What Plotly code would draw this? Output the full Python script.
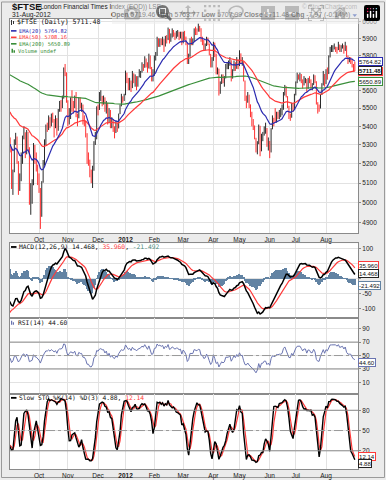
import math
import plotly.graph_objects as go

W, H = 386, 480
def X(p): return p / W
def Y(p): return 1 - p / H

# ---------------- data ----------------
month_labels = ['Oct', 'Nov', 'Dec', '<b>2012</b>', 'Feb', 'Mar', 'Apr', 'May', 'Jun', 'Jul', 'Aug']
month_start_idx = [22, 43, 65, 85, 106, 127, 149, 168, 190, 209, 231]

close = [
    5330, 5292, 5102, 5156, 5318, 5340, 5214, 5072, 5129, 5227, 5338, 5368, 5259, 5363, 5288, 5041, 5066, 5089, 5295, 5217, 5196, 5128,  # Sep
    5075, 4944, 5102, 5197, 5303, 5399, 5395, 5442, 5404, 5466, 5436, 5403, 5445, 5376, 5488, 5526, 5525, 5553, 5713, 5702, 5544,  # Oct
    5421, 5484, 5545, 5527, 5510, 5567, 5460, 5444, 5545, 5518, 5519, 5424, 5423, 5363, 5223, 5222, 5140, 5127, 5164, 5312, 5337, 5505,  # Nov
    5490, 5552, 5568, 5546, 5547, 5484, 5529, 5428, 5490, 5402, 5432, 5387, 5364, 5419, 5389, 5467, 5512, 5566, 5552, 5572,  # Dec
    5700, 5668, 5625, 5649, 5612, 5696, 5662, 5662, 5636, 5673, 5693, 5702, 5741, 5728, 5782, 5751, 5724, 5795, 5733, 5671, 5682,  # Jan
    5790, 5797, 5901, 5877, 5890, 5875, 5896, 5852, 5906, 5892, 5957, 5892, 5905, 5945, 5928, 5916, 5935, 5935, 5915, 5927, 5871,  # Feb
    5932, 5911, 5874, 5765, 5792, 5889, 5887, 5887, 5956, 5945, 5940, 5965, 5961, 5892, 5891, 5849, 5855, 5902, 5870, 5809, 5742, 5768,  # Mar
    5875, 5810, 5703, 5723, 5595, 5635, 5678, 5652, 5667, 5745, 5745, 5746, 5772, 5666, 5709, 5760, 5722, 5777, 5738,  # Apr
    5812, 5758, 5766, 5655, 5554, 5545, 5575, 5521, 5465, 5437, 5405, 5338, 5267, 5304, 5403, 5266, 5350, 5351, 5391, 5391, 5297, 5321,  # May
    5260, 5384, 5447, 5435, 5432, 5473, 5467, 5478, 5478, 5491, 5586, 5622, 5567, 5513, 5450, 5447, 5523, 5494, 5571,  # Jun
    5640, 5687, 5684, 5692, 5662, 5627, 5664, 5664, 5608, 5666, 5662, 5629, 5629, 5685, 5651, 5533, 5499, 5498, 5573, 5627, 5693, 5635,  # Jul
    5712, 5692, 5788, 5839, 5841, 5846, 5851, 5847, 5831, 5864, 5833, 5845, 5853, 5826, 5858, 5798, 5776, 5776, 5775, 5743, 5719, 5711.48,  # Aug
]
high = [
    5400, 5340, 5290, 5170, 5330, 5365, 5345, 5214, 5150, 5260, 5350, 5400, 5368, 5380, 5370, 5288, 5100, 5120, 5310, 5300, 5260, 5196,
    5150, 5075, 5110, 5220, 5330, 5410, 5420, 5460, 5450, 5470, 5475, 5440, 5460, 5445, 5495, 5540, 5545, 5570, 5730, 5750, 5702,
    5544, 5500, 5560, 5600, 5540, 5570, 5590, 5470, 5560, 5560, 5530, 5520, 5460, 5430, 5363, 5260, 5222, 5170, 5190, 5320, 5370, 5510,
    5520, 5590, 5600, 5568, 5570, 5560, 5540, 5529, 5500, 5490, 5450, 5440, 5400, 5430, 5420, 5470, 5520, 5580, 5566, 5580,
    5712, 5700, 5670, 5670, 5655, 5710, 5696, 5690, 5680, 5680, 5720, 5710, 5760, 5750, 5795, 5782, 5760, 5810, 5800, 5733, 5720,
    5800, 5820, 5910, 5901, 5900, 5900, 5910, 5896, 5915, 5920, 5965, 5957, 5930, 5960, 5950, 5935, 5945, 5950, 5940, 5940, 5940,
    5940, 5945, 5911, 5874, 5810, 5900, 5910, 5900, 5960, 5970, 5960, 5990, 5975, 5961, 5910, 5891, 5870, 5910, 5905, 5870, 5809, 5790,
    5880, 5875, 5810, 5730, 5723, 5650, 5690, 5690, 5680, 5750, 5760, 5770, 5790, 5772, 5720, 5770, 5760, 5790, 5777,
    5830, 5812, 5790, 5766, 5655, 5570, 5590, 5575, 5521, 5480, 5440, 5405, 5338, 5320, 5410, 5403, 5360, 5370, 5400, 5420, 5391, 5340,
    5321, 5390, 5460, 5447, 5500, 5480, 5480, 5490, 5500, 5520, 5590, 5630, 5622, 5567, 5513, 5470, 5530, 5523, 5580,
    5650, 5700, 5690, 5700, 5692, 5662, 5680, 5670, 5664, 5670, 5680, 5662, 5640, 5690, 5685, 5651, 5533, 5520, 5580, 5640, 5710, 5693,
    5720, 5730, 5800, 5850, 5860, 5860, 5870, 5851, 5850, 5880, 5864, 5860, 5870, 5860, 5880, 5858, 5800, 5790, 5790, 5775, 5750, 5763.77,
]
low = [
    5300, 5260, 5070, 5040, 5156, 5300, 5200, 5040, 5060, 5110, 5200, 5330, 5230, 5250, 5270, 4990, 4940, 4995, 5089, 5200, 5160, 5090,
    5050, 4870, 4930, 5102, 5190, 5300, 5370, 5380, 5390, 5400, 5420, 5340, 5390, 5350, 5376, 5480, 5480, 5500, 5553, 5680, 5530,
    5400, 5410, 5440, 5480, 5470, 5500, 5450, 5400, 5444, 5500, 5480, 5410, 5400, 5340, 5200, 5190, 5130, 5100, 5075, 5164, 5300, 5330,
    5460, 5490, 5540, 5510, 5520, 5480, 5470, 5410, 5420, 5390, 5390, 5370, 5335, 5364, 5370, 5389, 5467, 5510, 5530, 5540,
    5572, 5640, 5600, 5600, 5590, 5612, 5640, 5620, 5600, 5620, 5673, 5670, 5700, 5710, 5728, 5730, 5700, 5724, 5720, 5650, 5650,
    5682, 5770, 5797, 5850, 5850, 5860, 5860, 5820, 5852, 5870, 5890, 5870, 5880, 5905, 5910, 5890, 5900, 5910, 5890, 5900, 5860,
    5871, 5890, 5860, 5750, 5750, 5792, 5860, 5860, 5880, 5920, 5920, 5940, 5940, 5880, 5860, 5830, 5830, 5855, 5860, 5800, 5730, 5730,
    5768, 5790, 5690, 5690, 5570, 5580, 5635, 5640, 5620, 5667, 5720, 5720, 5740, 5650, 5666, 5709, 5710, 5722, 5720,
    5738, 5750, 5740, 5650, 5540, 5500, 5530, 5500, 5450, 5400, 5380, 5330, 5260, 5250, 5304, 5240, 5266, 5320, 5350, 5360, 5290, 5270,
    5230, 5260, 5384, 5400, 5420, 5420, 5440, 5440, 5450, 5460, 5491, 5570, 5560, 5500, 5440, 5430, 5447, 5480, 5494,
    5571, 5640, 5660, 5650, 5640, 5610, 5627, 5640, 5590, 5608, 5640, 5610, 5600, 5629, 5640, 5520, 5470, 5480, 5498, 5573, 5627, 5620,
    5635, 5660, 5692, 5788, 5820, 5820, 5835, 5820, 5810, 5831, 5820, 5820, 5840, 5810, 5826, 5790, 5750, 5760, 5750, 5730, 5705, 5707.99,
]
# starting levels of the indicators at the left edge
ema_seed = {20: 5300, 50: 5490, 200: 5695, 12: 5290, 26: 5385}
macd_signal_seed = -125
rsi_seed_gain, rsi_seed_loss = 45.0, 50.0

price_ticks = [4900, 5000, 5100, 5200, 5300, 5400, 5500, 5600, 5700, 5800, 5900, 6000]
macd_ticks = [100, 50, 0, -50, -100]
rsi_ticks = [90, 70, 50, 30, 10]
sto_ticks = [80, 50, 20]

# ---------------- indicators ----------------
N = len(close)
idx = list(range(N))

def ema(vals, n, seed):
    k = 2.0 / (n + 1)
    e, out = seed, []
    for v in vals:
        e = e + k * (v - e)
        out.append(e)
    return out

ema20 = ema(close, 20, ema_seed[20])
ema50 = ema(close, 50, ema_seed[50])
ema200 = ema(close, 200, ema_seed[200])
e12 = ema(close, 12, ema_seed[12])
e26 = ema(close, 26, ema_seed[26])
macd = [a - b for a, b in zip(e12, e26)]
sig = ema(macd, 9, macd_signal_seed)
hist = [a - b for a, b in zip(macd, sig)]

rsi = []
ag, al = rsi_seed_gain, rsi_seed_loss
for i in range(N):
    if i > 0:
        d = close[i] - close[i - 1]
        ag = (ag * 13 + max(d, 0)) / 14
        al = (al * 13 + max(-d, 0)) / 14
    rsi.append(100 - 100 / (1 + ag / al))

fastk = []
for i in range(N):
    lo = max(0, i - 13)
    hh, ll = max(high[lo:i + 1]), min(low[lo:i + 1])
    fastk.append((close[i] - ll) / (hh - ll) * 100 if hh > ll else 50)
def sma(vals, n):
    return [sum(vals[max(0, i - n + 1):i + 1]) / len(vals[max(0, i - n + 1):i + 1]) for i in range(len(vals))]
slowk = sma(fastk, 3)
slowd = sma(slowk, 3)

# ---------------- figure ----------------
fig = go.Figure()

up_x, up_y, dn_x, dn_y = [], [], [], []
for i in idx:
    is_up = i == 0 or close[i] >= close[i - 1]
    (up_x if is_up else dn_x).extend([i, i, None])
    (up_y if is_up else dn_y).extend([low[i], high[i], None])
fig.add_trace(go.Scatter(x=up_x, y=up_y, mode='lines', line=dict(color='#2a2a2a', width=1), hoverinfo='skip'))
fig.add_trace(go.Scatter(x=dn_x, y=dn_y, mode='lines', line=dict(color='#ff3030', width=1), hoverinfo='skip'))
fig.add_trace(go.Scatter(x=idx, y=ema200, mode='lines', line=dict(color='#3a8f3a', width=1.2)))
fig.add_trace(go.Scatter(x=idx, y=ema50, mode='lines', line=dict(color='#ff3a3a', width=1.2)))
fig.add_trace(go.Scatter(x=idx, y=ema20, mode='lines', line=dict(color='#2b2bb0', width=1.2)))

fig.add_trace(go.Bar(x=idx, y=hist, xaxis='x2', yaxis='y2', marker=dict(color='#6283a3', line=dict(width=0)), width=0.85))
fig.add_trace(go.Scatter(x=idx, y=sig, xaxis='x2', yaxis='y2', mode='lines', line=dict(color='#ff3a3a', width=1.2)))
fig.add_trace(go.Scatter(x=idx, y=macd, xaxis='x2', yaxis='y2', mode='lines', line=dict(color='black', width=1.5)))

fig.add_trace(go.Scatter(x=idx, y=rsi, xaxis='x3', yaxis='y3', mode='lines', line=dict(color='#6a74b0', width=1)))

fig.add_trace(go.Scatter(x=idx, y=slowd, xaxis='x4', yaxis='y4', mode='lines', line=dict(color='#ff3a3a', width=1.2)))
fig.add_trace(go.Scatter(x=idx, y=slowk, xaxis='x4', yaxis='y4', mode='lines', line=dict(color='black', width=1.4)))

xdom = [X(10), X(358)]
xr = [0.87, 254.3]
tickfont = dict(family='Liberation Sans', size=6.5, color='#222')
common_x = dict(domain=xdom, range=xr, tickvals=month_start_idx, ticktext=month_labels,
                showgrid=True, gridcolor='#e2e2e2', gridwidth=1, zeroline=False, ticks='',
                showline=True, linecolor='#8a8a8a', mirror=True, tickfont=tickfont)
common_y = dict(side='right', showgrid=True, gridcolor='#e2e2e2', zeroline=False, ticks='outside',
                ticklen=2, tickcolor='#888', showline=True, linecolor='#8a8a8a', mirror=True, tickfont=tickfont)

def dom(top, bot):
    return [Y(bot), Y(top)]

fig.update_layout(
    width=W, height=H, margin=dict(l=0, r=0, t=0, b=0),
    paper_bgcolor='#ebebeb', plot_bgcolor='white', showlegend=False, bargap=0,
    xaxis=dict(common_x, anchor='y', showticklabels=True),
    xaxis2=dict(common_x, anchor='y2', matches='x', showticklabels=False),
    xaxis3=dict(common_x, anchor='y3', matches='x', showticklabels=False),
    xaxis4=dict(common_x, anchor='y4', matches='x', showticklabels=True),
    yaxis=dict(common_y, anchor='x', domain=dom(18, 233), type='log',
               range=[math.log10(4850), math.log10(6017)], tickvals=price_ticks,
               ticktext=[('' if v == 5700 else str(v)) for v in price_ticks]),
    yaxis2=dict(common_y, anchor='x2', domain=dom(243.3, 318.3), range=[-131, 119], tickvals=macd_ticks,
                ticktext=[('' if v in (50, 0) else str(v)) for v in macd_ticks]),
    yaxis3=dict(common_y, anchor='x3', domain=dom(318.3, 394.3), range=[-6.7, 105.9], tickvals=rsi_ticks),
    yaxis4=dict(common_y, anchor='x4', domain=dom(394.3, 470), range=[-7, 104.6], tickvals=sto_ticks),
)

shapes = []
for ax, lv in (('3', 70), ('3', 30), ('4', 80), ('4', 20)):
    shapes.append(dict(type='line', xref='x%s domain' % ax, yref='y' + ax, x0=0, x1=1, y0=lv, y1=lv,
                       line=dict(color='#8c8c8c', width=1)))
for ax, lv in (('3', 50), ('4', 50)):
    shapes.append(dict(type='line', xref='x%s domain' % ax, yref='y' + ax, x0=0, x1=1, y0=lv, y1=lv,
                       line=dict(color='#999', width=1, dash='dashdot')))
shapes.append(dict(type='rect', xref='paper', yref='paper', x0=X(1.5), x1=X(384.5), y0=Y(478.5), y1=Y(1),
                   line=dict(color='#9a9a9a', width=1), layer='below'))
def seg(y, color, w=1.6, x0=11, x1=16.5):
    shapes.append(dict(type='line', xref='paper', yref='paper', x0=X(x0), x1=X(x1), y0=Y(y), y1=Y(y),
                       line=dict(color=color, width=w)))
seg(30, '#2b2bb0'); seg(36.5, '#ff3a3a'); seg(43, '#3a8f3a')
seg(247, 'black', 1.8); seg(398.5, 'black', 1.8)
for (x0, y0, x1, y1, c) in ((11, 19, 12, 24, '#333'), (13, 20, 14, 23, '#333'),
                            (11.5, 48, 13, 52, '#3a8f3a'), (13.5, 49.5, 15, 52, '#3a8f3a'),
                            (11, 321, 12.2, 325, '#6a74b0'), (12.8, 322.5, 14, 325, '#6a74b0')):
    shapes.append(dict(type='rect', xref='paper', yref='paper', x0=X(x0), x1=X(x1), y0=Y(y1), y1=Y(y0),
                       fillcolor=c, line=dict(width=0)))
shapes.append(dict(type='path', xref='paper', yref='paper',
                   path='M %f %f L %f %f L %f %f Z' % (X(352.5), Y(13.2), X(357), Y(13.2), X(354.75), Y(16)),
                   fillcolor='#3050b0', line=dict(width=0)))
fig.update_layout(shapes=shapes)

ann = []
def txt(x, y, s, size=6.5, color='#222', family='Liberation Sans', xanchor='left'):
    ann.append(dict(x=X(x), y=Y(y), xref='paper', yref='paper', text=s, showarrow=False,
                    xanchor=xanchor, yanchor='middle', font=dict(size=size, color=color, family=family)))

txt(9.5, 6, '<b>$FTSE</b>', size=9.5, color='#111')
txt(35.5, 6, '(London Financial Times Index (EOD)) LSE', size=6.4)
txt(359, 6, '© StockCharts.com', size=6.4, color='#8a8a8a', xanchor='right')
txt(9.5, 14.5, '31-Aug-2012', size=6.7)
txt(351.5, 14.5, '<b>Open</b> 5719.46 <b>High</b> 5763.77 <b>Low</b> 5707.99 <b>Close</b> 5711.48 '
                 '<b>Chg</b> -7.97 (-0.14%)', size=6.9, xanchor='right')

mono = 'DejaVu Sans Mono'
txt(15, 21.5, '$FTSE (Daily) 5711.48', size=6.6, family=mono, color='#111')
txt(17, 30, 'EMA(20) 5764.82', size=5.3, family=mono, color='#2b2bb0')
txt(17, 36.5, 'EMA(50) 5708.16', size=5.3, family=mono, color='#ff3a3a')
txt(17, 43, 'EMA(200) 5650.89', size=5.3, family=mono, color='#3a8f3a')
txt(15.5, 50, 'Volume undef', size=5.3, family=mono, color='#3a8f3a')
txt(17, 247, 'MACD(12,26,9) 14.468, <span style="color:#ff3a3a">35.960</span>, '
             '<span style="color:#4f8f7f">-21.492</span>', size=6.3, family=mono, color='#111')
txt(15.5, 323, 'RSI(14) 44.60', size=6.3, family=mono, color='#111')
txt(17, 398.5, 'Slow STO %K(14) %D(3) 4.88, <span style="color:#ff3a3a">12.14</span>',
    size=6.3, family=mono, color='#111')

def box(yref, yval, s, color, bold=False, yshift=0):
    ann.append(dict(x=X(358), y=yval, xref='paper', yref=yref, text=('<b>%s</b>' % s if bold else s),
                    showarrow=False, xanchor='left', yanchor='middle', yshift=yshift,
                    font=dict(size=6.1, color='#111', family='Liberation Sans'),
                    bgcolor='white', bordercolor=color, borderwidth=1, borderpad=0))

box('y', math.log10(5764.82), '5764.82', '#2b2bb0')
box('y', math.log10(5708.16), '5708.16', '#ff3a3a')
box('y', math.log10(5711.48), '5711.48', '#222', bold=True)
box('y', math.log10(5650.89), '5650.89', '#3a8f3a')
box('y2', 35.960, '35.960', '#ff3a3a', yshift=3)
box('y2', 14.468, '14.468', '#222', yshift=1.5)
box('y2', -21.492, '-21.492', '#6283a3')
box('y3', 44.60, '44.60', '#6a74b0', yshift=-3)
box('y4', 12.14, '12.14', '#ff3a3a', yshift=-0.5)
box('y4', 4.88, '4.88', '#222', yshift=-2)
fig.update_layout(annotations=ann)

fig.write_html('out.html', post_script="document.body.style.margin='0px';document.body.style.overflow='hidden';")
